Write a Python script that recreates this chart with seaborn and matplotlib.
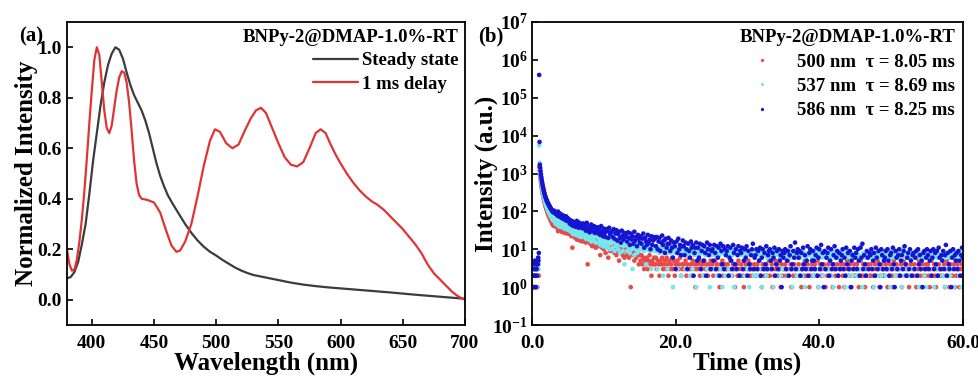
import numpy as np
import pandas as pd
import matplotlib
matplotlib.use("Agg")
import matplotlib.pyplot as plt
import seaborn as sns

# ---------------- (a) steady-state and delayed emission spectra ----------------
wl_steady = [380, 383, 386, 389, 392, 395, 398, 401, 404, 407, 410, 413, 416, 419,
             422, 425, 428, 431, 434, 437, 440, 443, 446, 449, 452, 455, 458, 461,
             465, 470, 475, 480, 485, 490, 495, 500, 505, 510, 515, 520, 525, 530,
             540, 550, 560, 570, 580, 590, 600, 620, 640, 660, 680, 700]
int_steady = [0.085, 0.09, 0.11, 0.15, 0.22, 0.30, 0.42, 0.55, 0.66, 0.77, 0.86, 0.93,
              0.975, 1.0, 0.99, 0.955, 0.90, 0.85, 0.81, 0.78, 0.75, 0.71, 0.66, 0.60,
              0.54, 0.49, 0.45, 0.415, 0.38, 0.34, 0.30, 0.265, 0.235, 0.21, 0.19,
              0.175, 0.158, 0.143, 0.128, 0.116, 0.106, 0.098, 0.088, 0.078, 0.068,
              0.060, 0.054, 0.049, 0.045, 0.037, 0.029, 0.020, 0.012, 0.004]

wl_delay = [380, 382, 384, 386, 388, 390, 392, 394, 396, 398, 400, 402, 404, 406, 408,
            410, 412, 414, 416, 418, 420, 422, 424, 426, 428, 430, 432, 434, 436, 438,
            440, 445, 450, 455, 460, 464, 468, 471, 475, 480, 485, 490, 495, 499, 503,
            508, 513, 518, 523, 528, 532, 536, 540, 545, 550, 555, 560, 565, 570, 575,
            580, 584, 588, 592, 596, 600, 605, 610, 615, 620, 625, 630, 635, 640, 645,
            650, 655, 660, 665, 670, 675, 680, 685, 690, 695, 700]
int_delay = [0.20, 0.14, 0.115, 0.12, 0.16, 0.23, 0.32, 0.43, 0.56, 0.70, 0.83, 0.95,
             1.0, 0.97, 0.86, 0.75, 0.68, 0.66, 0.69, 0.76, 0.83, 0.88, 0.905, 0.90,
             0.86, 0.78, 0.67, 0.55, 0.46, 0.415, 0.40, 0.395, 0.385, 0.345, 0.27,
             0.215, 0.19, 0.195, 0.23, 0.30, 0.41, 0.53, 0.63, 0.675, 0.665, 0.62,
             0.60, 0.615, 0.67, 0.72, 0.75, 0.76, 0.74, 0.68, 0.62, 0.565, 0.535,
             0.528, 0.545, 0.60, 0.66, 0.675, 0.66, 0.615, 0.575, 0.54, 0.50, 0.465,
             0.435, 0.41, 0.39, 0.375, 0.355, 0.33, 0.305, 0.28, 0.25, 0.22, 0.185,
             0.14, 0.105, 0.08, 0.055, 0.03, 0.012, 0.0]

spectra_labels = ["Steady state", "1 ms delay"]
panel_title = "BNPy-2@DMAP-1.0%-RT"

# ---------------- (b) phosphorescence decay (photon counts) ----------------
# channel times: 0.05 ms bins up to 3 ms, then 0.125 ms bins up to 60 ms
t_fine = np.round(np.arange(1, 61) * 0.05, 3)
t_coarse = np.round(3.0 + np.arange(1, 457) * 0.125, 3)

counts_500_fine = [1, 1, 2, 1, 1, 2, 1, 3, 1, 2, 1, 1, 2, 3, 1, 2, 3, 4, 2,
                   1500, 1200, 950, 780, 650, 550, 470, 410, 360, 318, 283, 254, 228,
                   206, 188, 172, 158, 146, 135, 125, 117, 109, 102, 96, 90, 85, 80,
                   76, 72, 68, 65, 62, 59, 56, 54, 51, 49, 47, 45, 43, 42]
counts_500_coarse = [
    52, 40, 46, 37, 30, 35, 43, 33, 29, 38, 31, 27, 36, 30, 26, 33,
    31, 25, 29, 22, 11, 24, 27, 20, 23, 18, 26, 21, 17, 24, 19, 16,
    22, 17, 20, 15, 18, 4, 16, 19, 14, 17, 12, 16, 13, 18, 11, 15,
    15, 12, 16, 7, 13, 11, 14, 10, 12, 8, 13, 11, 6, 12, 9, 10,
    11, 9, 12, 8, 10, 7, 11, 9, 5, 10, 8, 11, 7, 9, 6, 10,
    9, 7, 10, 6, 8, 1, 9, 7, 8, 5, 9, 6, 7, 8, 4, 7,
    5, 7, 4, 6, 3, 5, 4, 6, 3, 5, 7, 4, 2, 5, 4, 6,
    4, 6, 3, 5, 4, 2, 5, 4, 6, 3, 4, 5, 3, 6, 4, 2,
    5, 3, 4, 6, 3, 5, 2, 4, 3, 5, 4, 3, 6, 2, 4, 3,
    4, 3, 5, 2, 4, 3, 6, 3, 4, 2, 5, 3, 4, 1, 3, 4,
    3, 5, 2, 4, 3, 4, 2, 5, 3, 4, 3, 2, 4, 3, 5, 3,
    4, 2, 3, 5, 3, 4, 2, 3, 1, 4, 3, 5, 2, 3, 4, 3,
    3, 4, 2, 3, 5, 3, 2, 4, 3, 1, 3, 4, 2, 5, 3, 2,
    4, 3, 2, 1, 3, 4, 2, 3, 5, 3, 2, 4, 3, 2, 3, 4,
    3, 2, 4, 3, 5, 2, 3, 1, 4, 3, 2, 3, 4, 2, 3, 5,
    2, 3, 4, 1, 3, 2, 5, 3, 4, 2, 3, 3, 1, 4, 2, 3,
    3, 4, 2, 3, 5, 2, 3, 4, 1, 3, 2, 4, 3, 2, 6, 3,
    4, 2, 3, 1, 3, 4, 2, 5, 3, 2, 4, 3, 1, 3, 2, 4,
    3, 2, 4, 3, 2, 5, 1, 3, 4, 2, 3, 2, 4, 3, 1, 3,
    2, 4, 3, 5, 2, 3, 1, 4, 3, 2, 3, 4, 2, 1, 3, 4,
    3, 2, 4, 1, 3, 2, 5, 3, 2, 4, 3, 1, 2, 3, 4, 2,
    3, 4, 2, 1, 3, 5, 2, 3, 4, 2, 1, 3, 2, 4, 3, 2,
    4, 2, 3, 1, 2, 4, 3, 2, 5, 3, 1, 2, 4, 3, 2, 3,
    2, 4, 3, 1, 3, 2, 4, 3, 2, 1, 5, 3, 2, 4, 3, 2,
    3, 2, 4, 1, 3, 5, 2, 3, 4, 2, 3, 1, 2, 4, 7, 3,
    2, 4, 3, 1, 2, 3, 5, 2, 3, 1, 4, 2, 3, 2, 4, 3,
    4, 2, 1, 3, 5, 2, 3, 4, 2, 1, 3, 2, 4, 3, 2, 3,
    3, 2, 4, 1, 3, 5, 2, 3, 1, 4, 2, 3, 2, 4, 1, 3,
    2, 4, 3, 1, 3, 2, 4, 3]

counts_537_fine = [2, 1, 3, 2, 1, 4, 2, 3, 1, 2, 4, 3, 1, 2, 3, 5, 4, 3, 6,
                   5500, 1900, 1250, 1000, 820, 680, 580, 500, 430, 380, 335, 300,
                   270, 245, 222, 204, 188, 173, 161, 150, 141, 132, 124, 118, 111,
                   105, 100, 95, 91, 87, 83, 80, 76, 73, 71, 68, 66, 63, 61, 59, 57]
counts_537_coarse = [
    62, 48, 57, 44, 53, 40, 50, 46, 38, 49, 41, 35, 45, 39, 33, 42,
    40, 31, 36, 28, 38, 25, 33, 30, 24, 35, 27, 22, 32, 26, 21, 29,
    30, 22, 27, 19, 25, 28, 18, 24, 21, 16, 26, 20, 17, 23, 15, 22,
    21, 15, 19, 13, 23, 16, 12, 18, 14, 20, 11, 17, 13, 19, 10, 16,
    16, 11, 18, 9, 14, 12, 17, 10, 15, 8, 13, 16, 9, 12, 4, 14,
    13, 9, 15, 11, 8, 13, 10, 3, 12, 7, 14, 10, 8, 12, 9, 11,
    12, 10, 13, 11, 9, 12, 4, 11, 10, 12, 9, 11, 3, 10, 12, 9,
    11, 9, 12, 3, 10, 8, 11, 9, 12, 2, 10, 9, 11, 8, 3, 10,
    10, 8, 11, 9, 1, 10, 8, 12, 9, 3, 10, 8, 11, 2, 9, 10,
    9, 11, 3, 8, 10, 7, 9, 2, 11, 8, 3, 10, 7, 9, 1, 8,
    9, 7, 10, 3, 8, 11, 2, 9, 7, 10, 3, 8, 9, 1, 10, 7,
    8, 10, 3, 7, 9, 2, 8, 11, 7, 3, 9, 1, 8, 10, 2, 7,
    9, 7, 3, 8, 10, 2, 7, 9, 1, 8, 12, 3, 7, 9, 2, 8,
    7, 9, 3, 8, 2, 10, 7, 3, 9, 1, 8, 7, 3, 9, 2, 8,
    7, 8, 2, 9, 3, 7, 10, 1, 8, 3, 7, 9, 2, 6, 8, 3,
    8, 6, 3, 9, 1, 7, 8, 2, 10, 3, 7, 6, 2, 8, 3, 7,
    6, 8, 3, 7, 2, 9, 6, 3, 8, 1, 7, 9, 3, 6, 2, 8,
    7, 3, 6, 8, 2, 9, 7, 1, 6, 3, 8, 7, 2, 9, 3, 6,
    8, 2, 7, 6, 3, 9, 1, 7, 8, 3, 6, 2, 8, 7, 3, 6,
    7, 3, 8, 6, 2, 7, 9, 1, 6, 3, 8, 7, 2, 6, 3, 8,
    6, 8, 3, 7, 1, 6, 9, 2, 7, 3, 6, 8, 2, 7, 3, 6,
    8, 2, 6, 7, 3, 12, 6, 1, 8, 3, 7, 6, 2, 8, 3, 7,
    6, 3, 7, 8, 1, 6, 7, 2, 8, 3, 6, 7, 2, 9, 3, 6,
    7, 2, 6, 8, 3, 7, 1, 6, 9, 3, 7, 6, 2, 8, 3, 7,
    6, 3, 8, 1, 7, 11, 2, 6, 8, 3, 7, 6, 2, 8, 3, 6,
    7, 3, 6, 8, 2, 7, 1, 6, 8, 3, 7, 6, 2, 9, 1, 7,
    6, 8, 3, 7, 2, 6, 9, 1, 7, 3, 6, 8, 2, 7, 3, 6,
    7, 2, 8, 1, 6, 7, 3, 8, 6, 2, 7, 3, 9, 1, 6, 7,
    6, 3, 8, 2, 7, 1, 6, 8]

counts_586_fine = [1, 3, 2, 1, 4, 2, 3, 5, 2, 3, 1, 4, 3, 2, 5, 4, 6, 5, 8,
                   400000, 6800, 1700, 1400, 1150, 950, 800, 690, 600, 530, 470, 420,
                   380, 345, 315, 290, 268, 248, 232, 218, 205, 194, 184, 175, 168,
                   160, 152, 148, 141, 136, 130, 124, 121, 116, 112, 109, 105, 102,
                   99, 97, 94]
counts_586_coarse = [
    104, 86, 95, 78, 99, 73, 88, 69, 82, 64, 77, 70, 59, 74, 56, 66,
    62, 48, 58, 44, 55, 41, 52, 47, 39, 56, 43, 37, 50, 40, 46, 36,
    48, 36, 42, 31, 50, 33, 40, 28, 37, 45, 30, 35, 41, 27, 38, 32,
    38, 26, 33, 24, 41, 29, 22, 35, 27, 21, 34, 30, 20, 37, 25, 28,
    30, 21, 34, 19, 26, 32, 17, 25, 29, 20, 15, 31, 23, 18, 27, 21,
    25, 16, 28, 20, 13, 26, 18, 22, 14, 29, 17, 21, 12, 24, 19, 15,
    22, 14, 19, 26, 11, 20, 16, 13, 24, 15, 18, 10, 22, 13, 17, 21,
    19, 12, 21, 10, 16, 20, 9, 15, 23, 13, 17, 8, 19, 11, 14, 20,
    14, 9, 17, 11, 6, 15, 12, 3, 16, 8, 19, 10, 13, 7, 12, 17,
    12, 7, 15, 10, 3, 14, 9, 6, 16, 11, 13, 2, 8, 11, 15, 5,
    11, 6, 14, 3, 9, 13, 5, 12, 8, 2, 15, 10, 7, 13, 3, 9,
    10, 5, 13, 8, 3, 12, 6, 11, 2, 14, 9, 4, 12, 3, 10, 7,
    9, 12, 2, 6, 11, 5, 3, 13, 8, 4, 10, 3, 7, 12, 2, 9,
    8, 11, 3, 5, 10, 6, 12, 2, 9, 4, 3, 7, 10, 14, 3, 6,
    7, 10, 3, 9, 5, 11, 2, 6, 10, 3, 8, 4, 12, 3, 7, 9,
    10, 5, 3, 8, 6, 11, 2, 4, 9, 3, 10, 5, 7, 1, 9, 6,
    8, 10, 3, 5, 9, 2, 7, 12, 3, 4, 9, 6, 15, 3, 8, 10,
    6, 9, 2, 8, 3, 11, 4, 7, 3, 5, 12, 2, 8, 10, 3, 5,
    9, 5, 3, 7, 11, 2, 6, 10, 3, 13, 4, 8, 1, 9, 3, 6,
    8, 11, 2, 5, 10, 3, 4, 7, 12, 3, 6, 9, 2, 8, 3, 5,
    7, 10, 3, 6, 2, 11, 4, 8, 3, 9, 1, 5, 7, 3, 11, 6,
    8, 3, 10, 5, 2, 11, 6, 14, 3, 7, 4, 2, 9, 6, 3, 8,
    7, 10, 3, 5, 8, 2, 11, 6, 3, 9, 4, 1, 10, 7, 3, 5,
    6, 9, 3, 10, 5, 2, 7, 8, 3, 11, 4, 1, 9, 6, 3, 7,
    10, 2, 5, 7, 3, 9, 12, 4, 2, 6, 8, 3, 10, 5, 2, 7,
    8, 3, 6, 9, 2, 10, 4, 7, 3, 5, 1, 8, 9, 3, 6, 10,
    7, 3, 5, 9, 2, 6, 10, 3, 8, 4, 9, 2, 11, 6, 3, 7,
    5, 9, 3, 7, 13, 2, 8, 4, 3, 9, 1, 6, 10, 3, 7, 5,
    8, 3, 9, 5, 2, 7, 11, 6]

decay_labels = ["500 nm  \u03c4 = 8.05 ms",
                "537 nm  \u03c4 = 8.69 ms",
                "586 nm  \u03c4 = 8.25 ms"]
decay_colors = ["#e84a4a", "#74e6ec", "#1414d2"]

# ---------------- styling ----------------
sns.set_theme(style="ticks")
plt.rcParams.update({
    "font.family": ["Liberation Serif", "DejaVu Serif"],
    "font.weight": "bold",
    "axes.labelweight": "bold",
    "mathtext.fontset": "custom",
    "mathtext.rm": "Liberation Serif:bold",
    "mathtext.bf": "Liberation Serif:bold",
    "mathtext.it": "Liberation Serif:bold:italic",
    "mathtext.default": "rm",
    "axes.linewidth": 1.3,
    "axes.edgecolor": "black",
    "xtick.direction": "in",
    "ytick.direction": "in",
    "xtick.major.size": 4,
    "ytick.major.size": 4,
    "xtick.major.width": 1.2,
    "ytick.major.width": 1.2,
    "xtick.color": "black",
    "ytick.color": "black",
    "text.color": "black",
    "axes.labelcolor": "black",
})

fig = plt.figure(figsize=(9.79, 3.76), dpi=100)
ax1 = fig.add_axes([0.0684, 0.1356, 0.4065, 0.8059])
ax2 = fig.add_axes([0.5434, 0.1356, 0.4402, 0.8059])

# ---- panel (a)
sns.lineplot(x=wl_steady, y=int_steady, ax=ax1, color="#3c3c3c", lw=1.6,
             label=spectra_labels[0])
sns.lineplot(x=wl_delay, y=int_delay, ax=ax1, color="#e03434", lw=1.6,
             label=spectra_labels[1])
ax1.set_xlim(380, 700)
ax1.set_ylim(-0.1, 1.1)
ax1.set_xticks([400, 450, 500, 550, 600, 650, 700])
ax1.set_yticks([0.0, 0.2, 0.4, 0.6, 0.8, 1.0])
ax1.yaxis.set_major_formatter(matplotlib.ticker.FormatStrFormatter("%.1f"))
ax1.tick_params(labelsize=14)
ax1.tick_params(axis="x", pad=7)
ax1.tick_params(axis="y", pad=4)
ax1.set_xlabel("Wavelength (nm)", fontsize=18, labelpad=0)
ax1.set_ylabel("Normalized Intensity", fontsize=18, labelpad=-1)
leg1 = ax1.legend(title=panel_title, loc="upper right", frameon=False,
                  alignment="right", fontsize=13.5, handlelength=2.4,
                  handletextpad=0.2, borderaxespad=0.05, labelspacing=0.35,
                  borderpad=0.3)
leg1.get_title().set_fontsize(13.5)
leg1.get_title().set_fontweight("bold")

# ---- panel (b)
frames = []
for lab, tf, cf, tc, cc in [
        (decay_labels[0], t_fine, counts_500_fine, t_coarse, counts_500_coarse),
        (decay_labels[1], t_fine, counts_537_fine, t_coarse, counts_537_coarse),
        (decay_labels[2], t_fine, counts_586_fine, t_coarse, counts_586_coarse)]:
    frames.append(pd.DataFrame({"time": np.concatenate([tf, tc]),
                                "counts": list(cf) + list(cc),
                                "series": lab}))
decay = pd.concat(frames, ignore_index=True)

sns.scatterplot(data=decay, x="time", y="counts", hue="series",
                hue_order=decay_labels, palette=decay_colors, s=11,
                linewidth=0, ax=ax2)
ax2.set_yscale("log")
ax2.set_xlim(0, 60)
ax2.set_ylim(1e-1, 1e7)
ax2.set_xticks([0, 20, 40, 60])
ax2.xaxis.set_major_formatter(matplotlib.ticker.FormatStrFormatter("%.1f"))
ax2.yaxis.set_major_locator(matplotlib.ticker.LogLocator(base=10, numticks=10))
ax2.yaxis.set_minor_locator(matplotlib.ticker.NullLocator())
ax2.tick_params(labelsize=14)
ax2.tick_params(axis="x", pad=7)
ax2.tick_params(axis="y", pad=3)
ax2.set_xlabel("Time (ms)", fontsize=18, labelpad=0)
ax2.set_ylabel("Intensity (a.u.)", fontsize=18, labelpad=-4)
leg2 = ax2.legend(title=panel_title, loc="upper right", frameon=False,
                  alignment="right", fontsize=13.5, handlelength=1.0,
                  handletextpad=1.4, borderaxespad=0.05, labelspacing=0.38,
                  borderpad=0.35, markerscale=0.7)
leg2.get_title().set_fontsize(13.5)
leg2.get_title().set_fontweight("bold")

for ax in (ax1, ax2):
    for sp in ax.spines.values():
        sp.set_visible(True)
        sp.set_linewidth(1.3)

fig.text(0.020, 0.89, "(a)", fontsize=15, fontweight="bold")
fig.text(0.488, 0.89, "(b)", fontsize=15, fontweight="bold")

fig.savefig("out.png", dpi=100)
